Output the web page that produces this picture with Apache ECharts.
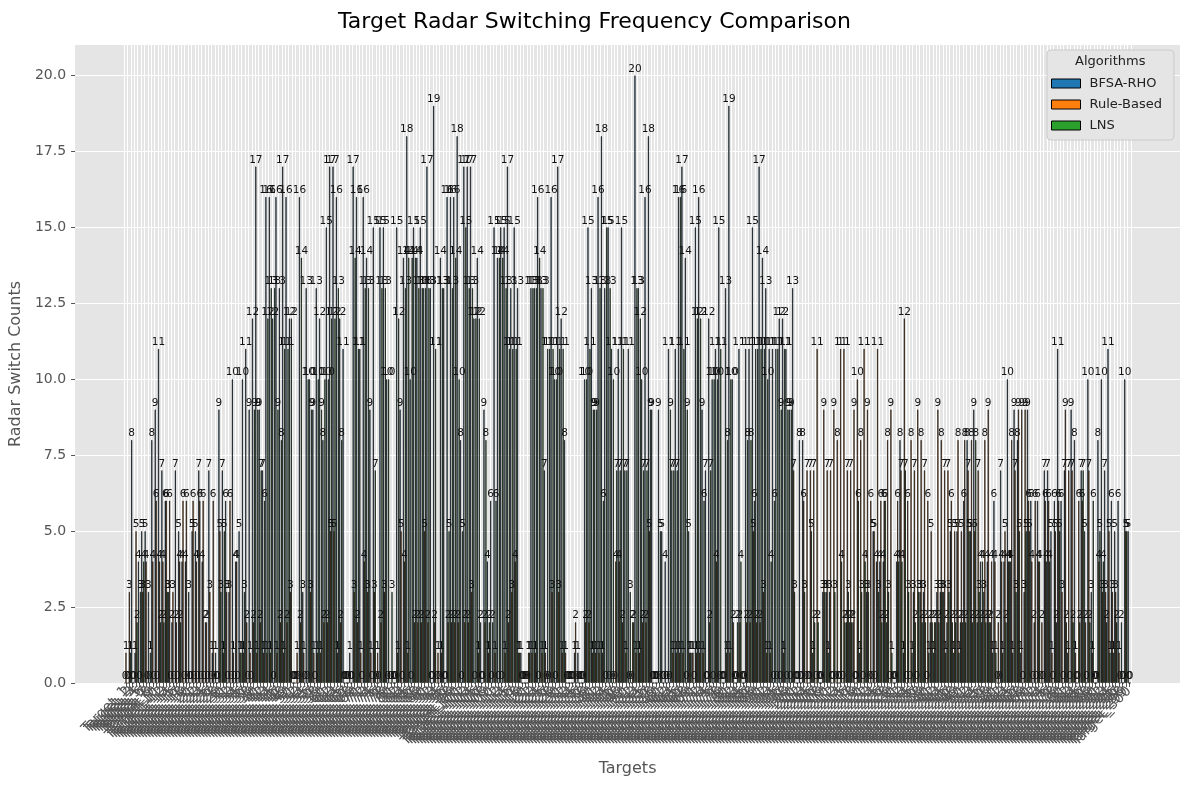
<!DOCTYPE html>
<html>
<head>
<meta charset="utf-8">
<script src="https://cdn.jsdelivr.net/npm/echarts@6/dist/echarts.min.js"></script>
<style>
html,body{margin:0;padding:0;background:#fff;}
#chart{width:1189px;height:788px;}
</style>
</head>
<body>
<div id="chart"></div>
<script>
var seriesNames = ['BFSA-RHO', 'Rule-Based', 'LNS'];
var colors = ['#1f77b4', '#ff7f0e', '#2ca02c'];
var yTicks = [0, 2.5, 5, 7.5, 10, 12.5, 15, 17.5, 20];

var bfsaRho = [
0,0,8,1,4,5,5,3,8,9,
11,7,6,3,2,7,5,4,4,3,
5,5,7,4,2,7,1,1,9,7,
6,3,10,4,5,10,11,9,12,17,
9,7,16,16,12,16,13,17,16,12,
0,0,16,3,13,10,9,13,12,8,
15,17,17,16,12,11,0,1,17,16,
11,16,14,9,15,0,15,15,10,0,
0,15,9,14,18,10,15,14,15,13,
17,13,19,0,14,13,16,16,16,18,
8,17,17,17,12,14,2,9,4,6,
15,14,15,15,17,13,15,13,1,0,
0,13,13,16,13,7,11,16,10,17,
12,8,0,0,1,1,0,10,15,13,
9,16,18,13,15,11,0,11,15,7,
11,0,20,13,10,16,18,9,0,9,
5,4,11,7,11,16,17,14,5,1,
15,16,9,7,12,10,11,15,0,13,
19,10,0,11,0,11,11,15,11,17,
14,13,11,11,11,12,12,11,9,13,
0,8,8,0,0,1,0,0,3,3,
3,0,0,0,0,2,2,2,0,1,
0,3,0,5,4,4,4,2,0,0,
4,8,1,0,0,3,0,3,3,0,
2,1,3,3,3,2,5,1,5,2,
6,8,5,9,2,4,3,4,2,6,
0,7,4,10,4,9,8,1,3,9,
6,2,6,0,7,7,5,6,11,6,
7,1,9,8,0,7,5,10,3,0,
8,10,7,11,6,5,6,2,10,5
];

var ruleBased = [
1,3,0,5,0,3,4,0,4,6,
4,4,6,6,3,2,4,6,6,0,
6,4,6,6,2,3,6,0,5,1,
3,6,1,4,1,1,2,1,2,1,
2,1,1,1,0,1,2,1,2,3,
0,1,2,1,0,3,1,1,1,2,
2,5,5,1,2,0,0,0,3,2,
1,4,3,1,3,1,2,3,0,0,
0,1,5,4,1,0,2,2,2,5,
2,0,2,1,1,0,2,2,2,2,
0,2,2,3,0,1,0,2,1,0,
1,0,0,1,2,3,4,1,0,0,
1,1,1,0,1,1,0,3,0,3,
1,1,0,0,2,0,0,2,2,1,
1,1,1,0,0,0,4,4,2,1,
0,2,1,1,2,2,5,0,0,0,
0,0,0,1,1,1,1,0,1,1,
1,1,1,0,2,0,4,0,0,1,
1,2,0,2,0,2,2,5,2,2,
3,1,1,0,0,0,1,0,0,7,
0,0,6,7,7,7,11,0,9,7,
7,9,8,11,11,7,7,9,10,8,
11,9,6,5,11,6,6,8,9,0,
6,7,12,6,8,7,9,8,7,6,
5,2,9,8,7,7,6,5,8,5,
8,7,8,5,7,2,8,9,4,4,
2,4,5,4,8,7,9,9,9,6,
4,6,4,2,6,6,1,5,6,3,
9,7,7,1,6,6,2,7,1,0,
4,3,3,5,3,3,1,0,5,0
];

var lns = [
0,1,0,2,3,4,0,1,0,0,
2,2,3,0,0,0,2,0,0,0,
0,0,0,0,0,0,0,0,3,5,
0,0,0,0,1,3,0,0,9,9,
7,6,12,13,13,9,8,11,11,12,
0,0,14,0,10,9,0,10,9,10,
10,12,12,13,8,0,0,0,14,11,
0,13,13,0,7,0,13,13,10,3,
0,12,0,13,14,14,14,13,13,13,
13,0,11,0,13,0,5,13,14,10,
5,15,13,13,12,12,0,8,2,2,
6,14,14,13,11,11,11,1,0,0,
1,13,13,14,13,0,11,11,10,11,
11,0,0,0,0,0,0,10,11,9,
9,13,6,15,13,10,7,7,11,7,
3,2,13,12,7,7,9,0,0,5,
0,0,9,7,7,16,11,9,1,0,
12,12,6,0,7,10,10,11,0,8,
10,0,2,4,0,8,8,6,11,11,
11,10,4,6,11,9,11,9,9,3,
0,0,3,0,5,2,2,0,3,1,
0,3,0,4,2,3,2,0,6,3,
4,3,0,0,3,2,6,3,1,0,
4,4,7,3,1,2,3,2,2,1,
2,2,2,3,1,3,2,2,1,2,
2,5,2,8,3,4,2,2,1,1,
0,1,2,4,1,3,5,0,5,5,
0,0,4,0,4,4,0,2,5,0,
2,0,2,0,2,7,0,2,6,0,
5,4,2,1,1,2,0,0,5,0
];

var categories = [];
for (var k = 1; k <= bfsaRho.length; k++) categories.push('Target_' + k);

var FONT = 'DejaVu Sans';
var chart = echarts.init(document.getElementById('chart'), null, {renderer: 'canvas'});

function makeSeries(name, data, color) {
  return {
    name: name,
    type: 'bar',
    xAxisIndex: 1,
    yAxisIndex: 1,
    data: data,
    barWidth: '25%',
    barGap: '0%',
    itemStyle: {color: color, borderColor: '#000', borderWidth: 0.6},
    label: {show: true, position: 'top', distance: 1, fontSize: 10.5, color: '#111', fontFamily: FONT},
    emphasis: {disabled: true},
    animation: false
  };
}

var option = {
  animation: false,
  backgroundColor: '#ffffff',
  title: {
    text: 'Target Radar Switching Frequency Comparison',
    left: 'center', top: 6,
    textStyle: {fontFamily: FONT, fontSize: 22, fontWeight: 'normal', color: '#000'}
  },
  legend: {
    data: seriesNames,
    orient: 'vertical',
    left: 1047, top: 50,
    padding: [27, 12, 8, 4],
    itemGap: 8,
    itemWidth: 29, itemHeight: 9,
    backgroundColor: '#e5e5e5',
    borderColor: '#cccccc', borderWidth: 1, borderRadius: 4,
    textStyle: {fontFamily: FONT, fontSize: 13, color: '#222', padding: [0, 0, 0, 4]},
    itemStyle: {borderColor: '#000', borderWidth: 1},
    icon: 'rect'
  },
  graphic: [{
    type: 'text', left: 1075, top: 55, z: 100,
    style: {text: 'Algorithms', font: '13px "DejaVu Sans"', fill: '#222'}
  }],
  grid: [
    {left: 75, right: 9, top: 45, bottom: 105, show: true, backgroundColor: '#e5e5e5', borderWidth: 0},
    {left: 124.3, right: 58.2, top: 45, bottom: 105}
  ],
  xAxis: [
    {gridIndex: 0, type: 'value', min: 0, max: 1, show: false},
    {
      gridIndex: 1, type: 'category', data: categories, boundaryGap: true,
      name: 'Targets', nameLocation: 'middle', nameGap: 78,
      nameTextStyle: {fontFamily: FONT, fontSize: 16, color: '#555'},
      axisLine: {show: false},
      axisTick: {show: true, alignWithLabel: true, interval: 0, length: 4, lineStyle: {color: '#555'}},
      axisLabel: {interval: 0, rotate: 45, fontFamily: FONT, fontSize: 14, color: '#555', margin: 6},
      splitLine: {show: true, interval: 0, lineStyle: {color: '#ffffff', width: 1}}
    }
  ],
  yAxis: [
    {
      gridIndex: 0, type: 'value', min: 0, max: 21, interval: 2.5,
      name: 'Radar Switch Counts', nameLocation: 'middle', nameGap: 50,
      nameTextStyle: {fontFamily: FONT, fontSize: 16, color: '#555'},
      axisLine: {show: false},
      axisTick: {show: true, length: 4, lineStyle: {color: '#555'}, customValues: yTicks},
      axisLabel: {
        fontFamily: FONT, fontSize: 14, color: '#555', margin: 9,
        customValues: yTicks,
        formatter: function (v) { return yTicks.indexOf(v) >= 0 ? v.toFixed(1) : ''; }
      },
      splitLine: {show: true, lineStyle: {color: '#ffffff', width: 1}}
    },
    {gridIndex: 1, type: 'value', min: 0, max: 21, show: false, splitLine: {show: false}}
  ],
  series: [
    makeSeries(seriesNames[0], bfsaRho, colors[0]),
    makeSeries(seriesNames[1], ruleBased, colors[1]),
    makeSeries(seriesNames[2], lns, colors[2])
  ]
};
chart.setOption(option);
</script>
</body>
</html>
